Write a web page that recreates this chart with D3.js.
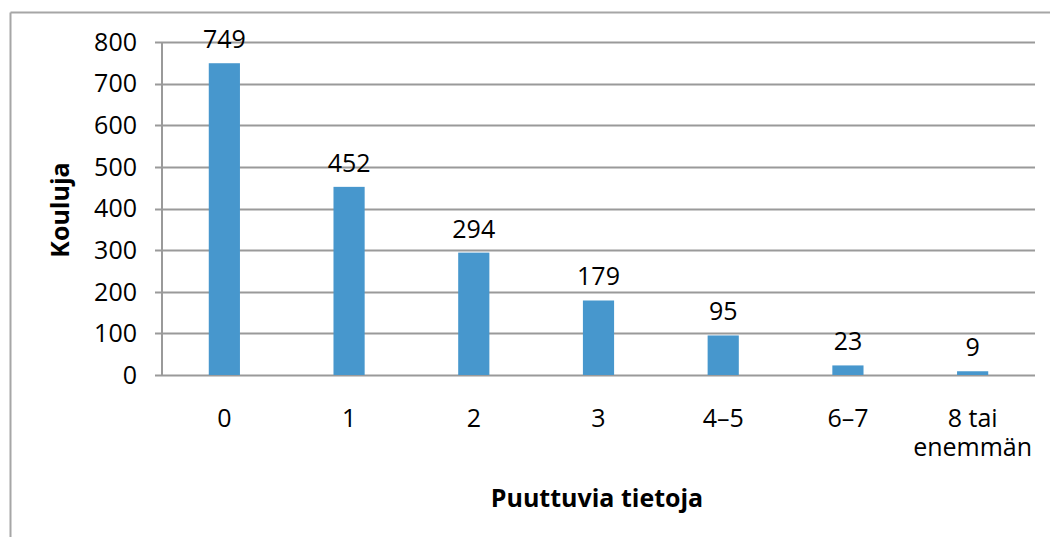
<!DOCTYPE html>
<html>
<head>
<meta charset="utf-8">
<script src="https://cdn.jsdelivr.net/npm/d3@7"></script>
<style>
body{margin:0;background:#fff;}
text{font-family:"Open Sans","Noto Sans",sans-serif;fill:#000;}
</style>
</head>
<body>
<div id="chart"></div>
<script>
// data
var categories = ["0","1","2","3","4–5","6–7","8 tai enemmän"];
var values = [749,452,294,179,95,23,9];
var yTicks = [0,100,200,300,400,500,600,700,800];

var W = 1050, H = 537;
var plotLeft = 162, plotRight = 1035, plotTop = 42, plotBottom = 375;
var fs = "25px";

var svg = d3.select("#chart").append("svg")
  .attr("width", W).attr("height", H);

// outer frame (top and left edges visible)
svg.append("line").attr("x1",10.5).attr("x2",W).attr("y1",12.5).attr("y2",12.5)
  .attr("stroke","#a6a6a6").attr("stroke-width",2);
svg.append("line").attr("x1",10.5).attr("x2",10.5).attr("y1",12.5).attr("y2",H)
  .attr("stroke","#a6a6a6").attr("stroke-width",2);

var x = d3.scaleBand().domain(categories).range([plotLeft,plotRight])
  .paddingInner(0.75).paddingOuter(0.375);
var y = d3.scaleLinear().domain([0,800]).range([plotBottom,plotTop]);

// gridlines
svg.append("g").selectAll("line").data(yTicks).enter().append("line")
  .attr("x1",plotLeft-7).attr("x2",plotRight)
  .attr("y1",function(d){return Math.round(y(d))+0.5;})
  .attr("y2",function(d){return Math.round(y(d))+0.5;})
  .attr("stroke","#9a9a9a").attr("stroke-width",2);

// y axis line
svg.append("line").attr("x1",plotLeft).attr("x2",plotLeft)
  .attr("y1",plotTop).attr("y2",plotBottom+1)
  .attr("stroke","#9a9a9a").attr("stroke-width",2);

// y tick labels
svg.append("g").selectAll("text").data(yTicks).enter().append("text")
  .attr("x",137).attr("y",function(d){return y(d);})
  .attr("dy","0.35em").attr("text-anchor","end")
  .style("font-size",fs).text(function(d){return d;});

// bars
svg.append("g").selectAll("rect").data(values).enter().append("rect")
  .attr("x",function(d,i){return x(categories[i]);})
  .attr("width",x.bandwidth())
  .attr("y",function(d){return y(d);})
  .attr("height",function(d){return y(0)-y(d);})
  .attr("fill","#4797cd");

// value labels
svg.append("g").selectAll("text").data(values).enter().append("text")
  .attr("x",function(d,i){return x(categories[i])+x.bandwidth()/2;})
  .attr("y",function(d){return y(d)-15;})
  .attr("text-anchor","middle")
  .style("font-size",fs).text(function(d){return d;});

// category labels (wrap "8 tai enemmän" onto two lines)
categories.forEach(function(c){
  var parts = c.indexOf(" enemmän")>0 ? ["8 tai","enemmän"] : [c];
  parts.forEach(function(p,i){
    svg.append("text")
      .attr("x",x(c)+x.bandwidth()/2)
      .attr("y",427+i*29)
      .attr("text-anchor","middle")
      .style("font-size",fs).text(p);
  });
});

// axis titles
svg.append("text").attr("x",597).attr("y",507).attr("text-anchor","middle")
  .style("font-size","25px").style("font-weight","bold").text("Puuttuvia tietoja");
svg.append("text").attr("transform","translate(69,210) rotate(-90)")
  .attr("text-anchor","middle")
  .style("font-size","25px").style("font-weight","bold").text("Kouluja");
</script>
</body>
</html>
